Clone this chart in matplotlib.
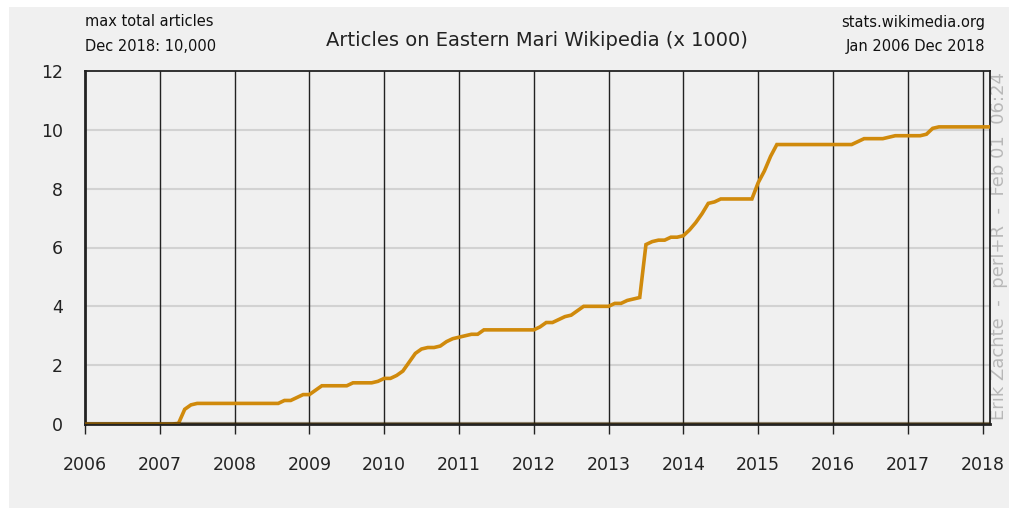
import numpy as np
import matplotlib
matplotlib.use("Agg")
import matplotlib.pyplot as plt
from matplotlib.patches import Rectangle

# monthly article counts (x 1000), starting Jan 2006
articles = [
    0, 0, 0, 0, 0, 0, 0, 0, 0, 0, 0, 0,                # 2006
    0, 0, 0, 0.02, 0.5, 0.65, 0.7, 0.7, 0.7, 0.7, 0.7, 0.7,  # 2007
    0.7, 0.7, 0.7, 0.7, 0.7, 0.7, 0.7, 0.7, 0.8, 0.8, 0.9, 1.0,  # 2008
    1.0, 1.15, 1.3, 1.3, 1.3, 1.3, 1.3, 1.4, 1.4, 1.4, 1.4, 1.45,  # 2009
    1.55, 1.55, 1.65, 1.8, 2.1, 2.4, 2.55, 2.6, 2.6, 2.65, 2.8, 2.9,  # 2010
    2.95, 3.0, 3.05, 3.05, 3.2, 3.2, 3.2, 3.2, 3.2, 3.2, 3.2, 3.2,  # 2011
    3.2, 3.3, 3.45, 3.45, 3.55, 3.65, 3.7, 3.85, 4.0, 4.0, 4.0, 4.0,  # 2012
    4.0, 4.1, 4.1, 4.2, 4.25, 4.3, 6.1, 6.2, 6.25, 6.25, 6.35, 6.35,  # 2013
    6.4, 6.6, 6.85, 7.15, 7.5, 7.55, 7.65, 7.65, 7.65, 7.65, 7.65, 7.65,  # 2014
    8.2, 8.6, 9.1, 9.5, 9.5, 9.5, 9.5, 9.5, 9.5, 9.5, 9.5, 9.5,  # 2015
    9.5, 9.5, 9.5, 9.5, 9.6, 9.7, 9.7, 9.7, 9.7, 9.75, 9.8, 9.8,  # 2016
    9.8, 9.8, 9.8, 9.85, 10.05, 10.1, 10.1, 10.1, 10.1, 10.1, 10.1, 10.1,  # 2017
    10.1, 10.1,  # 2018
]
years = list(range(2006, 2019))
y_ticks = [0, 2, 4, 6, 8, 10, 12]

x = 2006 + np.arange(len(articles)) / 12.0

BG = "#f0f0f0"
LINE = "#d08a0c"

fig = plt.figure(figsize=(10.09, 5.08), dpi=100, facecolor="white")
fig.patches.append(Rectangle((9 / 1009, 0), 1, 1 - 7 / 508, transform=fig.transFigure,
                             facecolor=BG, edgecolor="none", zorder=-10))
ax = fig.add_axes([85 / 1009, 84 / 508, 905 / 1009, 353 / 508])
ax.set_zorder(5)
ax.set_facecolor(BG)

for yv in y_ticks[1:-1]:
    ax.axhline(yv, color="#d2d2d2", lw=1.5, zorder=1)
for yr in years[1:]:
    ax.axvline(yr, color="#222222", lw=1.0, zorder=1)

ax.plot(x, articles, color=LINE, lw=2.6, zorder=3, solid_joinstyle="miter")
# baseline darkens the flat stretch at zero (brownish in the original)
ax.axhline(0, color="#3a2600", lw=3.0, zorder=4, alpha=0.55)

ax.set_xlim(2006, 2018.1)
ax.set_ylim(0, 12)
ax.set_xticks(years)
ax.set_xticklabels([str(y) for y in years])
ax.set_yticks(y_ticks)
ax.tick_params(axis="x", direction="out", length=7, width=1, pad=16,
               labelsize=12.5, colors="#222222")
ax.tick_params(axis="y", length=0, pad=16, labelsize=12.5, colors="#222222")
for s in ax.spines.values():
    s.set_color("#222222")
    s.set_linewidth(1.3)
ax.spines["left"].set_linewidth(2)
ax.spines["bottom"].set_linewidth(2)

fig.text(85 / 1009, 1 - 22 / 508, "max total articles", fontsize=10.5,
         ha="left", va="center", color="#111111")
fig.text(85 / 1009, 1 - 46 / 508, "Dec 2018: 10,000", fontsize=10.5,
         ha="left", va="center", color="#111111")
fig.text(537 / 1009, 1 - 40 / 508, "Articles on Eastern Mari Wikipedia (x 1000)",
         fontsize=14, ha="center", va="center", color="#222222")
fig.text(985 / 1009, 1 - 22 / 508, "stats.wikimedia.org", fontsize=10.5,
         ha="right", va="center", color="#111111")
fig.text(985 / 1009, 1 - 46 / 508, "Jan 2006 Dec 2018", fontsize=10.5,
         ha="right", va="center", color="#111111")
fig.text(999 / 1009, 1 - 420 / 508, "Erik Zachte  -  perl+R  -  Feb 01  06:24",
         fontsize=13, rotation=90, ha="center", va="bottom", color="#b8b8b8")

fig.savefig("out.png", dpi=100, facecolor=fig.get_facecolor())
